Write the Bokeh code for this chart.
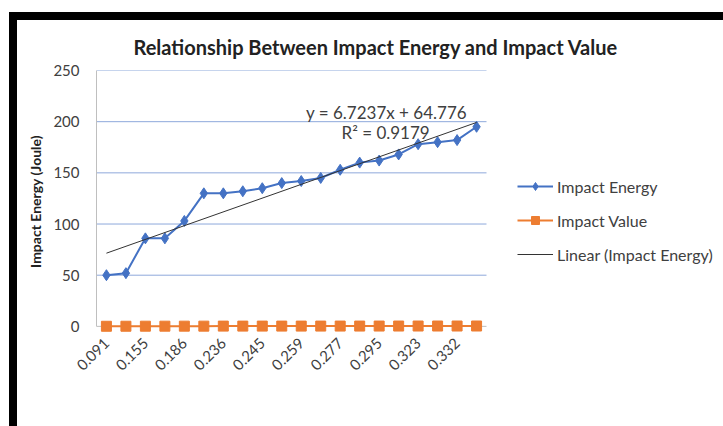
from bokeh.plotting import figure
from bokeh.models import FixedTicker, Legend, LegendItem, Range1d, Title
from bokeh.core.properties import value
from bokeh.embed import file_html
from bokeh.resources import INLINE

# ---- data ----
positions = list(range(1, 21))
impact_value = [0.091, 0.120, 0.155, 0.170, 0.186, 0.210, 0.236, 0.240, 0.245, 0.250,
                0.259, 0.270, 0.277, 0.290, 0.295, 0.310, 0.323, 0.330, 0.332, 0.340]
impact_energy = [50, 52, 86, 86, 103, 130, 130, 132, 135, 140,
                 142, 145, 153, 160, 162, 168, 178, 180, 182, 195]
tick_positions = [1, 3, 5, 7, 9, 11, 13, 15, 17, 19]
tick_labels = ["0.091", "0.155", "0.186", "0.236", "0.245",
               "0.259", "0.277", "0.295", "0.323", "0.332"]
slope = 6.7237
intercept = 64.776
r_squared = 0.9179
y_ticks = [0, 50, 100, 150, 200, 250]

FONT = "Lato"
TXT = "#404040"

# plotting area spans categories 0.49..20.51; frame continues to the right for the legend
X0, X1 = 0.49, 20.51
FRAME_W = 627
X_END = X0 + FRAME_W * (X1 - X0) / 390.0

trend_x = [positions[0], positions[-1]]
trend_y = [slope * x + intercept for x in trend_x]

p = figure(width=706, height=406, output_backend="svg", toolbar_location=None,
           x_range=Range1d(X0, X_END), y_range=Range1d(-6, 250),
           min_border_left=79, min_border_top=50, min_border_right=0, min_border_bottom=94)
p.styles = {"box-shadow": "-4px -4px 0px 4px black",
            "margin-left": "17px", "margin-top": "20px"}
p.outline_line_color = None
p.background_fill_color = "white"
p.border_fill_color = "white"

t = Title(text="Relationship Between Impact Energy and Impact Value", align="left",
          offset=37, standoff=23, text_font=FONT,
          text_font_size="20px", text_font_style="bold", text_color="#222222")
p.title = t

# axes
p.xaxis.ticker = FixedTicker(ticks=tick_positions)
p.xaxis.major_label_overrides = {tp: lab for tp, lab in zip(tick_positions, tick_labels)}
p.xaxis.major_label_orientation = 0.785398
p.xaxis.major_label_text_font = FONT
p.xaxis.major_label_text_font_size = "15px"
p.xaxis.major_label_text_color = TXT
p.xaxis.major_tick_line_color = None
p.xaxis.minor_tick_line_color = None
p.xaxis.axis_line_color = None
p.xaxis.major_label_standoff = 2

p.yaxis.ticker = FixedTicker(ticks=y_ticks)
p.yaxis.bounds = (0, 250)
p.yaxis.major_label_text_font = FONT
p.yaxis.major_label_text_font_size = "15px"
p.yaxis.major_label_text_color = TXT
p.yaxis.major_tick_line_color = None
p.yaxis.minor_tick_line_color = None
p.yaxis.axis_line_color = "#BFBFBF"
p.yaxis.major_label_standoff = 11
p.yaxis.axis_label = "Impact Energy (Joule)"
p.yaxis.axis_label_text_font = FONT
p.yaxis.axis_label_text_font_size = "14px"
p.yaxis.axis_label_text_font_style = "bold"
p.yaxis.axis_label_text_color = "#222222"
p.yaxis.axis_label_standoff = 6

p.xgrid.grid_line_color = None
p.ygrid.grid_line_color = None

BLUE = "#4472C4"
ORANGE = "#ED7D31"

# horizontal gridlines (blue) and category axis line (gray), limited to the plot area
grid_levels = [v for v in y_ticks if v > 0]
p.segment(x0=[X0] * len(grid_levels), x1=[X1] * len(grid_levels),
          y0=grid_levels, y1=grid_levels, line_color="#8EA9DB", line_width=1)
p.segment(x0=[X0], x1=[X1], y0=[0], y1=[0], line_color="#BFBFBF", line_width=1)

l1 = p.line(positions, impact_energy, line_color=BLUE, line_width=2)
s1 = p.scatter(positions, impact_energy, marker="diamond", size=11, fill_color=BLUE, line_color=BLUE)
l2 = p.line(positions, impact_value, line_color=ORANGE, line_width=2)
s2 = p.scatter(positions, impact_value, marker="square", size=10, fill_color=ORANGE, line_color=ORANGE)
l3 = p.line(trend_x, trend_y, line_color="#333333", line_width=1)

p.text(x=[15.38], y=[209], text=[f"y = {slope}x + {intercept}"], text_font=value(FONT),
       text_font_size="17px", text_color=TXT, text_align="center", text_baseline="middle")
p.text(x=[15.33], y=[189.5], text=[f"R² = {r_squared}"], text_font=value(FONT),
       text_font_size="17px", text_color=TXT, text_align="center", text_baseline="middle")

legend = Legend(items=[
    LegendItem(label="Impact Energy", renderers=[l1, s1]),
    LegendItem(label="Impact Value", renderers=[l2, s2]),
    LegendItem(label="Linear (Impact Energy)", renderers=[l3]),
], location=(421, 68), orientation="vertical")
legend.border_line_color = None
legend.background_fill_alpha = 0
legend.label_text_font = FONT
legend.label_text_font_size = "16px"
legend.label_text_color = TXT
legend.glyph_width = 36
legend.glyph_height = 20
legend.label_height = 20
legend.label_standoff = 4
legend.spacing = 14
legend.padding = 0
legend.margin = 0
p.add_layout(legend, "center")

open("out.html", "w").write(file_html(p, INLINE))
